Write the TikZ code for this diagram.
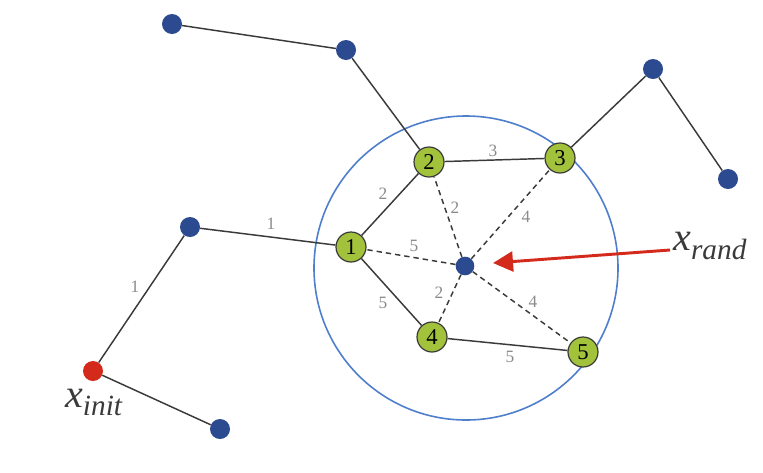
\documentclass[tikz,border=0pt]{standalone}
\usepackage{fontspec}
\setmainfont{Liberation Serif}
\usetikzlibrary{arrows.meta}
\definecolor{gfill}{HTML}{A2C23C}
\definecolor{bnode}{HTML}{2C4A90}
\definecolor{rnode}{HTML}{D32A1C}
\definecolor{cblue}{HTML}{4F7FCC}
\definecolor{lbl}{HTML}{8A8A8A}
\definecolor{edg}{HTML}{3A3A3A}
\tikzset{
  gnode/.style={circle,draw=edg,line width=0.9pt,fill=gfill,minimum size=22.5pt,inner sep=0pt,font=\fontsize{17}{17}\selectfont},
  bdot/.style={circle,fill=bnode,minimum size=15pt,inner sep=0pt},
  cdot/.style={circle,fill=bnode,minimum size=14pt,inner sep=0pt},
  rdot/.style={circle,fill=rnode,minimum size=15pt,inner sep=0pt},
  edge/.style={draw=edg,line width=1.1pt},
  dedge/.style={draw=edg,line width=1.1pt,dashed,dash pattern=on 4pt off 3pt},
  elbl/.style={text=lbl,font=\fontsize{13}{13}\selectfont,inner sep=1pt},
  big/.style={text=edg,font=\fontsize{30}{30}\selectfont\itshape,inner sep=0pt}
}
\begin{document}
\begin{tikzpicture}[x=0.75pt,y=-0.75pt]
\useasboundingbox (0,0) rectangle (763,472);
% circle
\node[circle,draw=cblue,line width=1.2pt,minimum size=228pt,inner sep=0pt] (ring) at (466,268) {};
% nodes
\node[bdot] (a) at (172,24) {};
\node[bdot] (b) at (346,50) {};
\node[bdot] (c) at (653,69) {};
\node[bdot] (d) at (728,179) {};
\node[bdot] (e) at (190,227) {};
\node[rdot] (init) at (93,371) {};
\node[bdot] (f) at (220,429) {};
\node[gnode] (n1) at (351,247) {1};
\node[gnode] (n2) at (429,162) {2};
\node[gnode] (n3) at (560,158) {3};
\node[gnode] (n4) at (432,337) {4};
\node[gnode] (n5) at (583,352) {5};
\node[cdot] (rand) at (465,266) {};
% solid edges
\path[edge] (a) -- (b);
\path[edge] (b) -- (n2);
\path[edge] (c) -- (n3);
\path[edge] (c) -- (d);
\path[edge] (e) -- (n1);
\path[edge] (e) -- (init);
\path[edge] (init) -- (f);
\path[edge] (n1) -- (n2);
\path[edge] (n2) -- (n3);
\path[edge] (n1) -- (n4);
\path[edge] (n4) -- (n5);
% dashed edges
\path[dedge] (rand) -- (n1);
\path[dedge] (rand) -- (n2);
\path[dedge] (rand) -- (n3);
\path[dedge] (rand) -- (n4);
\path[dedge] (rand) -- (n5);
% labels
\node[elbl] (l1) at (271,224) {1};
\node[elbl] (l2) at (135,287) {1};
\node[elbl] (l3) at (383,194) {2};
\node[elbl] (l4) at (493,151) {3};
\node[elbl] (l5) at (455,208) {2};
\node[elbl] (l6) at (526,217) {4};
\node[elbl] (l7) at (414,246) {5};
\node[elbl] (l8) at (383,303) {5};
\node[elbl] (l9) at (439,293) {2};
\node[elbl] (l10) at (533,302) {4};
\node[elbl] (l11) at (510,357) {5};
% text labels
\node[big] (xinit) at (94,402) {x\textsubscript{\fontsize{22}{22}\selectfont init}};
\node[big,anchor=west] (xrand) at (673,246) {x\textsubscript{\fontsize{22}{22}\selectfont rand}};
\coordinate (tip) at (493,263);
\coordinate (st) at (670,250);
\draw[rnode,line width=2.2pt,-{Triangle[length=15pt,width=15pt]}] (st) -- (tip);
\end{tikzpicture}
\end{document}
